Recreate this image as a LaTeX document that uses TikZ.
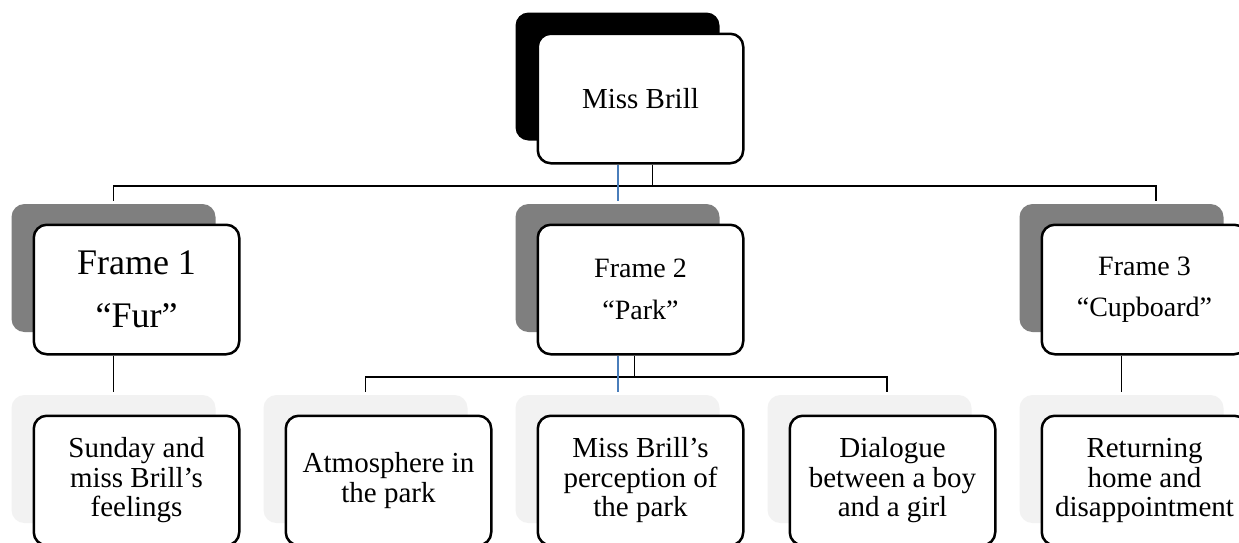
\documentclass[tikz,border=0pt]{standalone}
\usepackage{fontspec}
\setmainfont{Liberation Serif}

\definecolor{trunkblue}{RGB}{74,126,187}
\definecolor{framegray}{RGB}{127,127,127}
\definecolor{leafgray}{RGB}{242,242,242}

\begin{document}
\begin{tikzpicture}[x=1pt,y=-1pt]
\tikzset{back/.style = {shape=rectangle,rounded corners=13pt,minimum width=204pt,minimum height=128pt,inner sep=0pt}}
\tikzset{card/.style = {shape=rectangle,draw,fill=white,line width=2.5pt,rounded corners=13pt,minimum width=205.5pt,minimum height=129.5pt,align=center,inner sep=2pt}}
\tikzset{leaf/.style = {card,font=\fontsize{29}{29.5}\selectfont}}
\tikzset{link/.style = {line width=1.2pt}}
\tikzset{trunk/.style = {line width=2pt,draw=trunkblue}}

\useasboundingbox (0,0) rectangle (1239,542);
\clip (0,0) rectangle (1239,542);
\fill[white] (0,0) rectangle (1239,542);

% root
\node[back,fill=black] (brillb) at (617.5,76.5) {};
\node[card,font=\fontsize{29}{34}\selectfont] (brill) at (640.5,98.5) {Miss Brill};

% frames
\node[back,fill=framegray] (furb) at (113.5,268) {};
\node[card,font=\fontsize{36}{53}\selectfont] (fur) at (136.5,289.5) {Frame 1\\“Fur”};
\node[back,fill=framegray] (parkb) at (617.5,268) {};
\node[card,font=\fontsize{28}{41.5}\selectfont] (park) at (640.5,289.5) {Frame 2\\“Park”};
\node[back,fill=framegray] (cupb) at (1121.5,268) {};
\node[card,font=\fontsize{28}{41.5}\selectfont] (cup) at (1144.5,289.5) {Frame 3\\“Cupboard”};

% scenes
\node[back,fill=leafgray] (sundayb) at (113.5,459) {};
\node[leaf] (sunday) at (136.5,480.5) {Sunday and\\miss Brill’s\\feelings};
\node[back,fill=leafgray] (atmosb) at (365.5,459) {};
\node[leaf] (atmos) at (388.5,480.5) {Atmosphere in\\the park};
\node[back,fill=leafgray] (viewb) at (617.5,459) {};
\node[leaf] (view) at (640.5,480.5) {Miss Brill’s\\perception of\\the park};
\node[back,fill=leafgray] (talkb) at (869.5,459) {};
\node[leaf] (talk) at (892.5,480.5) {Dialogue\\between a boy\\and a girl};
\node[back,fill=leafgray] (homeb) at (1121.5,459) {};
\node[leaf] (home) at (1144.5,480.5) {Returning\\home and\\disappointment};

% connectors
\coordinate (topbus) at (1156,186);
\coordinate (midbus) at (887,377);
\coordinate (brilltap) at ([xshift=12pt]brill.south);
\coordinate (parktap) at ([xshift=-6pt]park.south);

\draw[link] (brilltap) -- (brilltap |- topbus);
\draw[link] ([yshift=3pt]furb.north) |- (topbus) -- ++(0,15);
\draw[trunk] (brill.south -| parkb.north) -- ([yshift=3pt]parkb.north);

\draw[link] (fur.south -| furb.south) -- ([yshift=3pt]sundayb.north);
\draw[link] (parktap) -- (parktap |- midbus);
\draw[link] ([yshift=3pt]atmosb.north) |- (midbus) -- ++(0,15);
\draw[trunk] (park.south -| viewb.north) -- ([yshift=3pt]viewb.north);
\draw[link] (cup.south -| cupb.south) -- ([yshift=3pt]homeb.north);
\end{tikzpicture}
\end{document}
